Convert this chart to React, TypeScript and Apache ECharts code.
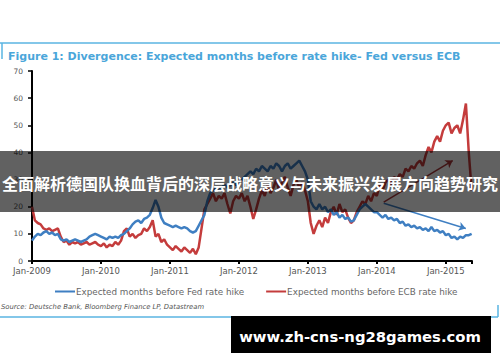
import React, { useEffect, useRef } from "react";
import * as echarts from "echarts";

// Half-monthly observations from Jan-2009
const startYear = 2009;
const stepsPerYear = 24;

const fedMonths = [
  7.5, 9, 10, 9.5, 10.5, 11, 10, 10.5, 9.5, 10, 8, 7.5, 8, 7, 7.5, 8, 7.5, 7, 7.5, 8, 9, 9.5, 10, 9.5,
  9, 8.5, 8, 9, 8.5, 9, 8.5, 9.5, 10, 11, 12, 13.5, 14.5, 15, 14, 15.5, 16, 17, 19.5, 22.5, 20, 16, 14, 13.5,
  13, 12.5, 13, 12.5, 12, 12.5, 12, 11, 10.5, 11, 13, 15, 17, 22, 25, 26, 27, 26, 27, 28, 27, 28, 29, 28,
  29, 30, 31, 32, 33, 32, 34, 33, 35, 34, 33, 35, 34, 36, 35, 33, 35, 36, 34, 35, 36, 37, 35, 33,
  30, 22, 20, 19, 21, 19, 20, 18, 19, 17, 18, 16, 17, 15.5, 16, 14.5, 15, 17, 19, 20, 21, 20, 19, 18,
  18, 17, 16, 17, 15.5, 16, 15, 15.5, 14, 14.5, 13, 13.5, 12.5, 13, 12, 12.5, 11.5, 12, 11, 12.5, 11, 11.5, 10.5, 11,
  9.5, 10, 8.5, 9, 8, 9, 8.5, 9.5, 9.5, 10,
];

const ecbMonths = [
  20, 15, 14, 13.5, 12, 11.5, 12, 11, 11.5, 12, 9, 7, 7.5, 6, 7, 6.5, 7, 6, 6.5, 7, 6, 6.5, 7, 6,
  5.5, 6.5, 5, 6, 5.5, 7, 6, 7.5, 11, 12, 9, 10, 8.5, 9.5, 10, 12, 11, 12.5, 15, 9, 10, 7, 8, 6,
  5, 4, 5.5, 4.5, 3.5, 5, 4, 3, 4.5, 2.5, 5, 12, 19, 21, 23, 25, 22, 24, 23, 25, 21, 17.5, 22, 24,
  23, 25, 22, 24, 20, 15.5, 19, 23, 26, 24, 28, 25, 27, 30, 26, 29, 31, 27, 24, 28, 30, 27, 29, 26,
  22, 14, 10, 13, 15, 12.5, 16, 14, 18, 20, 17, 21, 18, 19, 16, 14, 15, 18, 20, 22, 21, 24, 22, 25,
  24, 28, 26, 29, 30, 28, 31, 30, 32, 31, 34, 33, 35, 34, 36, 37, 35, 39, 42, 40, 44, 46, 44, 48,
  50, 51, 47, 49, 50, 47, 52, 58, 40, 26,
];

const yearTicks = [2009, 2010, 2011, 2012, 2013, 2014, 2015];
const seriesNames = [
  "Expected months before Fed rate hike",
  "Expected months before ECB rate hike",
];
// Trend arrows drawn on the chart: [startYear, startValue, endYear, endValue]
const ecbArrow = [2014.1, 21.7, 2015.1, 37];
const fedArrow = [2014.1, 21.3, 2015.29, 12];

const titleText = "Figure 1: Divergence: Expected months before rate hike- Fed versus ECB";
const sourceText = "Source: Deutsche Bank, Bloomberg Finance LP, Datastream";
const bannerText = "全面解析德国队换血背后的深层战略意义与未来振兴发展方向趋势研究";
const siteText = "www.zh-cns-ng28games.com";

const toPairs = (arr: number[]) =>
  arr.map((v, i) => [startYear + i / stepsPerYear, v]);

const FONT = "'DejaVu Sans', Verdana, sans-serif";

export default function App() {
  const ref = useRef<HTMLDivElement>(null);
  useEffect(() => {
    if (!ref.current) return;
    const chart = echarts.init(ref.current, null, { renderer: "svg" });
    const blue = "#3f7fc2";
    const red = "#c43c3c";
    const frame = "#5ab4e2";
    chart.setOption({
      animation: false,
      backgroundColor: "#ffffff",
      textStyle: { fontFamily: FONT },
      grid: { left: 32, right: 28, top: 71, bottom: 101, containLabel: false },
      xAxis: {
        type: "value",
        min: 2009,
        max: 2015.38,
        interval: 1,
        axisLine: { show: true, lineStyle: { color: "#000", width: 2 } },
        axisTick: { show: true, length: 3, lineStyle: { color: "#000", width: 2 } },
        splitLine: { show: false },
        axisLabel: {
          color: "#555",
          fontSize: 8.5,
          fontFamily: FONT,
          margin: 5,
          formatter: (v: number) => (Number.isInteger(v) && yearTicks.includes(v) ? `Jan-${v}` : ""),
        },
      },
      yAxis: {
        type: "value",
        min: 0,
        max: 70,
        interval: 10,
        axisLine: { show: true, lineStyle: { color: "#000", width: 2 } },
        axisTick: { show: true, length: 4, lineStyle: { color: "#000", width: 1.5 } },
        splitLine: { show: false },
        axisLabel: { color: "#555", fontSize: 7.5, fontFamily: FONT, margin: 9 },
      },
      legend: {
        show: true,
        left: 50,
        top: 282,
        itemWidth: 20,
        itemHeight: 2,
        itemGap: 22,
        icon: "rect",
        textStyle: { color: "#666", fontSize: 8.8, fontFamily: FONT, padding: [0, 0, 0, -4] },
        data: seriesNames,
      },
      title: {
        text: titleText,
        left: 3,
        top: 46,
        textStyle: { color: "#4aa6da", fontSize: 11, fontWeight: "bold", fontFamily: FONT },
      },
      series: [
        {
          name: seriesNames[0],
          type: "line",
          data: toPairs(fedMonths),
          showSymbol: false,
          lineStyle: { color: blue, width: 2.5 },
          itemStyle: { color: blue },
          z: 3,
          markLine: {
            silent: true,
            symbol: ["none", "arrow"],
            symbolSize: 7,
            label: { show: false },
            lineStyle: { color: blue, width: 1.5, type: "solid" },
            data: [[{ coord: [fedArrow[0], fedArrow[1]] }, { coord: [fedArrow[2], fedArrow[3]] }]],
          },
        },
        {
          name: seriesNames[1],
          type: "line",
          data: toPairs(ecbMonths),
          showSymbol: false,
          lineStyle: { color: red, width: 2.5 },
          itemStyle: { color: red },
          z: 2,
          markLine: {
            silent: true,
            symbol: ["none", "arrow"],
            symbolSize: 7,
            label: { show: false },
            lineStyle: { color: "#a8383a", width: 1.5, type: "solid" },
            data: [[{ coord: [ecbArrow[0], ecbArrow[1]] }, { coord: [ecbArrow[2], ecbArrow[3]] }]],
          },
        },
      ],
      graphic: [
        { type: "line", shape: { x1: 0, y1: 43, x2: 500, y2: 43 }, style: { stroke: frame, lineWidth: 1.5 } },
        { type: "line", shape: { x1: 2, y1: 43, x2: 2, y2: 59 }, style: { stroke: frame, lineWidth: 1.5 } },
        { type: "line", shape: { x1: 0, y1: 317, x2: 498, y2: 317 }, style: { stroke: frame, lineWidth: 1.5 } },
        { type: "line", shape: { x1: 498, y1: 305, x2: 498, y2: 317 }, style: { stroke: frame, lineWidth: 1.5 } },
        {
          type: "text",
          left: 1,
          top: 303,
          style: { text: sourceText, fill: "#555", font: `italic 6.8px ${FONT}` },
        },
        {
          type: "rect",
          shape: { x: 0, y: 151, width: 500, height: 61 },
          style: { fill: "rgba(0,0,0,0.62)" },
          z: 100,
        },
        {
          type: "text",
          x: 250,
          y: 183,
          z: 101,
          style: {
            text: bannerText,
            fill: "#fff",
            align: "center",
            verticalAlign: "middle",
            font: "bold 16px 'Noto Sans CJK SC', sans-serif",
          },
        },
        {
          type: "rect",
          shape: { x: 231, y: 316, width: 260, height: 37 },
          style: { fill: "#000" },
          z: 100,
        },
        {
          type: "text",
          x: 360,
          y: 336,
          z: 101,
          style: {
            text: siteText,
            fill: "#fff",
            align: "center",
            verticalAlign: "middle",
            font: "bold 14.8px 'DejaVu Sans', sans-serif",
          },
        },
      ],
    });
    return () => chart.dispose();
  }, []);
  return (
    <div
      ref={ref}
      style={{ position: "fixed", left: 0, top: 0, width: 500, height: 362, background: "#fff" }}
    />
  );
}
